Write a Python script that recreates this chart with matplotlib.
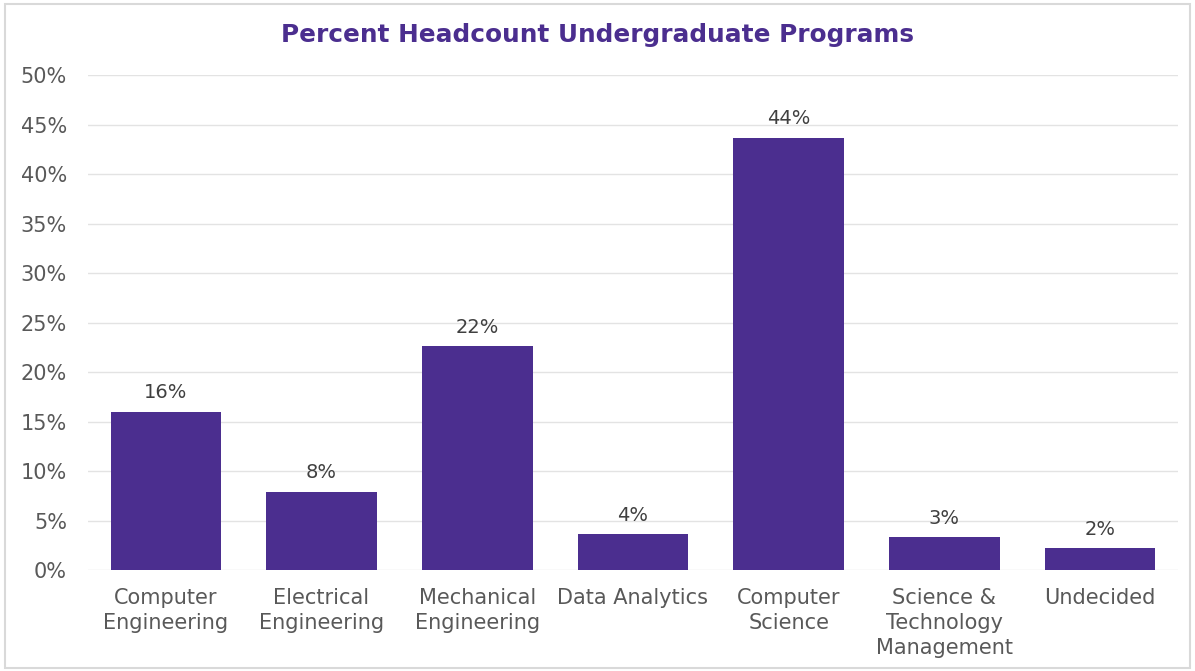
import matplotlib
matplotlib.use('Agg')
import matplotlib.pyplot as plt
from matplotlib.patches import Rectangle
from matplotlib.ticker import PercentFormatter

programs = ['Computer\nEngineering', 'Electrical\nEngineering', 'Mechanical\nEngineering',
            'Data Analytics', 'Computer\nScience', 'Science &\nTechnology\nManagement',
            'Undecided']
percent = [16.0, 7.9, 22.6, 3.6, 43.7, 3.3, 2.2]
labels = ['16%', '8%', '22%', '4%', '44%', '3%', '2%']

purple = '#4B2E8F'
grey = '#595959'

plt.rcParams['font.family'] = ['DejaVu Sans']

fig = plt.figure(figsize=(11.95, 6.71), dpi=100)
ax = fig.add_axes([0.0736, 0.1505, 0.9122, 0.7375])

x = range(len(programs))
bars = ax.bar(x, percent, width=0.71, color=purple, zorder=3)
for b, lab in zip(bars, labels):
    ax.annotate(lab, (b.get_x() + b.get_width() / 2, b.get_height()),
                xytext=(0, 7), textcoords='offset points', ha='center', va='bottom',
                fontsize=14, color='#404040')

ax.set_xlim(-0.5, len(programs) - 0.5)
ax.set_ylim(0, 50)
ax.set_yticks(range(0, 51, 5))
ax.yaxis.set_major_formatter(PercentFormatter(decimals=0))
ax.set_xticks(list(x))
ax.set_xticklabels(programs, linespacing=1.3)
ax.tick_params(axis='both', length=0, labelsize=15, labelcolor=grey)
ax.tick_params(axis='x', pad=13)
ax.tick_params(axis='y', pad=15)
ax.grid(axis='y', color='#E3E3E3', linewidth=1, zorder=0)
for s in ax.spines.values():
    s.set_visible(False)

fig.text(0.5, 0.948, 'Percent Headcount Undergraduate Programs', ha='center', va='center',
         fontsize=17.8, fontweight='bold', color=purple)

fig.patches.append(Rectangle((0.004, 0.004), 0.992, 0.99, transform=fig.transFigure,
                             fill=False, edgecolor='#D9D9D9', linewidth=1.5))

fig.savefig('out.png', dpi=100)
